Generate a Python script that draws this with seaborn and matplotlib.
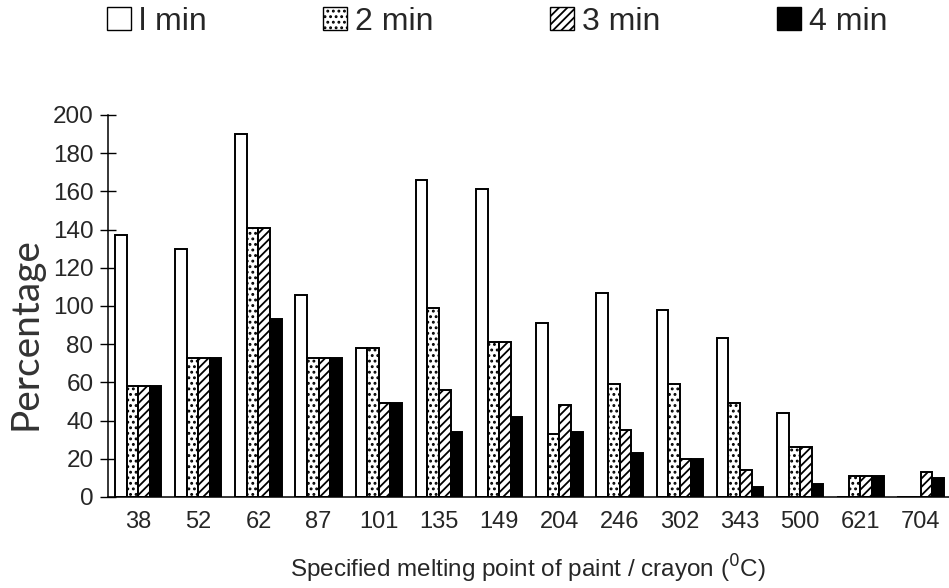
import numpy as np
import pandas as pd
import matplotlib
matplotlib.use("Agg")
import matplotlib.pyplot as plt
import seaborn as sns
from matplotlib.patches import Patch

# 데이터
melting_points = ["38", "52", "62", "87", "101", "135", "149", "204",
                  "246", "302", "343", "500", "621", "704"]
series_names = ["l min", "2 min", "3 min", "4 min"]
min1 = [137, 130, 190, 106, 78, 166, 161, 91, 107, 98, 83, 44, 0, 0]
min2 = [58, 73, 141, 73, 78, 99, 81, 33, 59, 59, 49, 26, 11, 0]
min3 = [58, 73, 141, 73, 49, 56, 81, 48, 35, 20, 14, 26, 11, 13]
min4 = [58, 73, 93, 73, 49, 34, 42, 34, 23, 20, 5, 7, 11, 10]
y_ticks = [0, 20, 40, 60, 80, 100, 120, 140, 160, 180, 200]

df = pd.DataFrame({
    "mp": melting_points * 4,
    "time": np.repeat(series_names, len(melting_points)),
    "pct": min1 + min2 + min3 + min4,
})

sns.set_style("white")
plt.rcParams["font.family"] = ["Liberation Sans", "DejaVu Sans"]
plt.rcParams["hatch.linewidth"] = 1.3

fills = ["white", "white", "white", "black"]
hatches = ["", "...", "////", ""]

fig = plt.figure(figsize=(9.49, 5.88), dpi=100)
ax = fig.add_axes([0.1138, 0.1548, 0.888, 0.6497])

sns.barplot(data=df, x="mp", y="pct", hue="time", order=melting_points,
            hue_order=series_names, width=0.77, dodge=True, gap=0,
            edgecolor="black", linewidth=1.4, legend=False, ax=ax)

# 막대 스타일 (흰색, 점, 빗금, 검정)
for cont, fc, h in zip(ax.containers, fills, hatches):
    for bar in cont:
        bar.set_facecolor(fc)
        bar.set_edgecolor("black")
        bar.set_hatch(h)

ax.set_xlim(-0.5, 13.5)
ax.set_ylim(0, 200)
ax.set_yticks(y_ticks)
ax.set_xticks(np.arange(-0.5, 14.0, 1.0), minor=True)
ax.tick_params(axis="x", which="major", length=0, pad=10, labelsize=17)
ax.tick_params(axis="x", which="minor", direction="inout", length=11,
               width=1, color="black")
ax.tick_params(axis="y", direction="inout", length=11, width=1,
               color="black", pad=5, labelsize=17.5, left=True)

sns.despine(ax=ax, top=True, right=True)
ax.spines["left"].set_color("black")
ax.spines["bottom"].set_color("black")
ax.spines["left"].set_linewidth(1.1)
ax.spines["bottom"].set_linewidth(1.1)

ax.set_ylabel("")
ax.set_xlabel("Specified melting point of paint / crayon ($^{0}$C)",
              fontsize=17.5)
ax.xaxis.set_label_coords(0.498, -0.145)

fig.text(0.027, 0.432, "Percentage", rotation=90, fontsize=28,
         ha="center", va="center", color="#333333", family="Lato")

# 범례
handles = [Patch(facecolor=fc, edgecolor="black", hatch=h, linewidth=1.0)
           for fc, h in zip(fills, hatches)]
fig.legend(handles, series_names, loc="center left",
           bbox_to_anchor=(0.099, 0.963), ncol=4, frameon=False,
           fontsize=23, handlelength=0.75, handleheight=0.75,
           handletextpad=0.25, columnspacing=3.65, borderaxespad=0)

fig.savefig("out.png", dpi=100)
